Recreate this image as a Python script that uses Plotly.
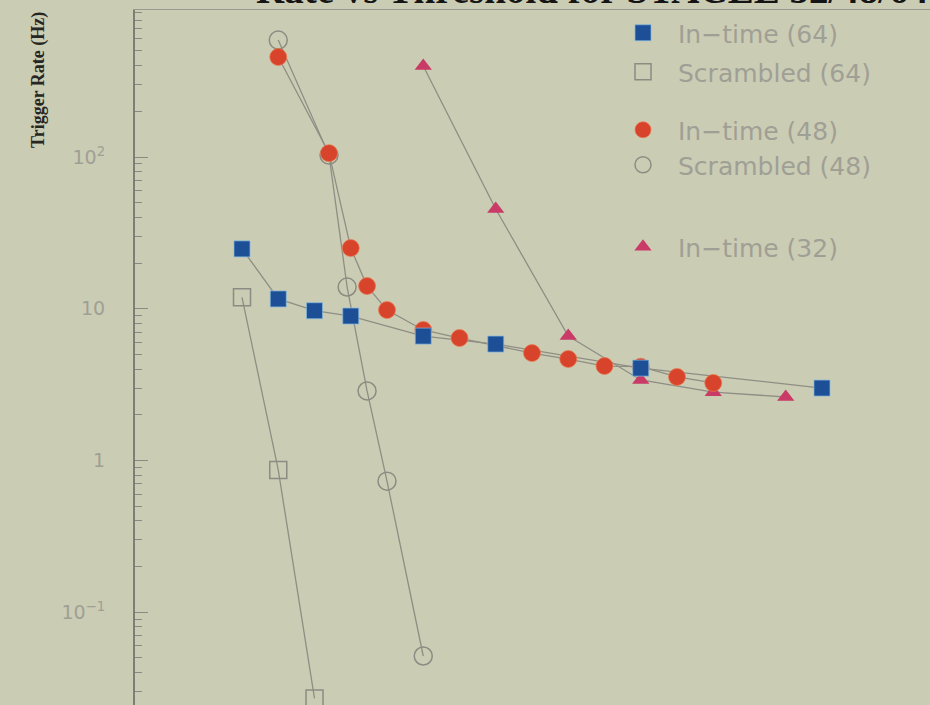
import plotly.graph_objects as go

# Discriminator threshold steps and measured trigger rates (Hz)
thr_in64 = [0, 1, 2, 3, 5, 7, 11, 16]
rate_in64 = [24.8, 11.6, 9.7, 8.95, 6.6, 5.85, 4.06, 3.0]

thr_scr64 = [0, 1, 2]
rate_scr64 = [11.9, 0.865, 0.027]

thr_in48 = [1, 2.4, 3, 3.45, 4, 5, 6, 8, 9, 10, 11, 12, 13]
rate_in48 = [456, 106, 25.1, 14.1, 9.8, 7.24, 6.41, 5.1, 4.66, 4.19, 4.15, 3.55, 3.24]

thr_scr48 = [1, 2.4, 2.9, 3.45, 4, 5]
rate_scr48 = [590, 103, 13.9, 2.87, 0.73, 0.0514]

thr_in32 = [5, 7, 9, 11, 13, 15]
rate_in32 = [398, 45.4, 6.6, 3.39, 2.82, 2.62]

y_tickvals = [0.1, 1, 10, 100]
y_ticktext = ["10<sup>−1</sup>", "1", "10", "10<sup>2</sup>"]

BG = "#cbccb4"
LINE = "#8e8e84"
GREY_TXT = "#a09f95"
FONT = "'DejaVu Sans', Verdana, sans-serif"

W, H = 930, 705
ML, MR, MT, MB = 135, 0, 10, 0
PW, PH = W - ML - MR, H - MT - MB


def px_x(px):
    return (px - ML) / PW


def px_y(py):
    return 1 - (py - MT) / PH


series = [
    # (x, y, name, legend, marker)
    (thr_scr64, rate_scr64, "Scrambled (64)", "legend2",
     dict(symbol="square-open", size=17, color="#8c8c82", line=dict(width=1.5))),
    (thr_scr48, rate_scr48, "Scrambled (48)", "legend4",
     dict(symbol="circle-open", size=18, color="#8c8c82", line=dict(width=1.5))),
    (thr_in32, rate_in32, "In−time (32)", "legend5",
     dict(symbol="triangle-up", size=15, color="#c93a66")),
    (thr_in48, rate_in48, "In−time (48)", "legend3",
     dict(symbol="circle", size=17, color="#d8432b",
          line=dict(color="rgba(235,120,80,0.7)", width=1))),
    (thr_in64, rate_in64, "In−time (64)", "legend",
     dict(symbol="square", size=16, color="#1d4f97",
          line=dict(color="rgba(130,185,225,0.7)", width=1))),
]

fig = go.Figure()

# connecting lines first so every marker sits on top of them
for xs, ys, name, leg, mk in series:
    fig.add_trace(go.Scatter(x=xs, y=ys, mode="lines", showlegend=False,
                             line=dict(color=LINE, width=1.3), hoverinfo="skip"))

for xs, ys, name, leg, mk in series:
    fig.add_trace(go.Scatter(x=xs, y=ys, mode="markers", name=name, marker=mk, legend=leg))

legend_rows = {"legend": 33, "legend2": 72, "legend3": 130, "legend4": 165, "legend5": 247}
leg_common = dict(
    xanchor="left", yanchor="middle", bgcolor="rgba(0,0,0,0)",
    font=dict(family=FONT, size=25, color=GREY_TXT), itemwidth=60,
)
layout_legends = {}
for key, py in legend_rows.items():
    layout_legends[key] = dict(x=px_x(608), y=px_y(py), **leg_common)

fig.update_layout(
    width=W, height=H,
    margin=dict(l=ML, r=MR, t=MT, b=MB, pad=0),
    paper_bgcolor=BG, plot_bgcolor=BG,
    showlegend=True,
    **layout_legends,
    xaxis=dict(
        range=[-2.952, 18.98], side="top", showline=True, linecolor="#9a9a90", linewidth=1,
        ticks="", showticklabels=False, showgrid=False, zeroline=False,
    ),
    yaxis=dict(
        type="log", range=[-1.612, 2.969],
        showline=True, linecolor="#7e7e76", linewidth=2,
        ticks="inside", ticklen=13, tickwidth=1.3, tickcolor="#8a8a82",
        tickvals=y_tickvals, ticktext=y_ticktext,
        tickfont=dict(family=FONT, size=19, color=GREY_TXT),
        ticklabelstandoff=24,
        minor=dict(ticks="inside", ticklen=7, tickwidth=1.2, tickcolor="#8a8a82", dtick="D1"),
        showgrid=False, zeroline=False,
    ),
    annotations=[
        dict(text="<b>Rate vs Threshold for STACEE 32/48/64</b>", xref="paper", yref="paper",
             x=px_x(592), y=px_y(13), xanchor="center", yanchor="bottom", showarrow=False,
             font=dict(family="Liberation Serif, serif", size=39, color="#151515")),
        dict(text="<b>Trigger Rate (Hz)</b>", xref="paper", yref="paper",
             x=px_x(38), y=px_y(80), xanchor="center", yanchor="middle", showarrow=False,
             textangle=-90, font=dict(family="Liberation Serif, serif", size=18, color="#262622")),
    ],
)

fig.write_html("out.html")
